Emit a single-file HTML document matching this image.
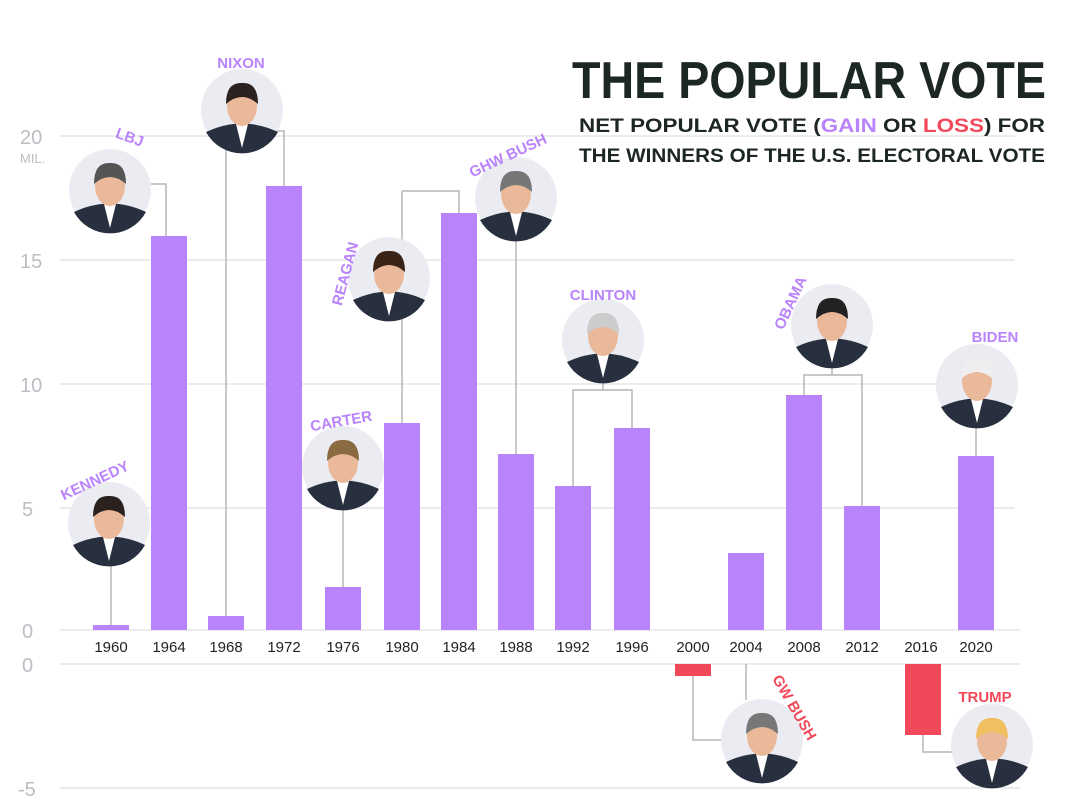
<!DOCTYPE html>
<html><head><meta charset="utf-8"><style>
body{margin:0;background:#fff;}
svg{display:block;font-family:"Liberation Sans",sans-serif;}
</style></head><body>
<svg id="s" width="1080" height="809" viewBox="0 0 1080 809">
<g stroke="#e6e6ea" stroke-width="1.5">
<line x1="60" y1="136" x2="1015" y2="136"/><line x1="60" y1="260" x2="1015" y2="260"/>
<line x1="60" y1="384" x2="1015" y2="384"/><line x1="60" y1="508" x2="1015" y2="508"/>
<line x1="60" y1="630" x2="1020" y2="630"/><line x1="60" y1="664" x2="1020" y2="664"/>
<line x1="60" y1="788" x2="1020" y2="788"/>
</g>
<g fill="#bdbdc4" font-size="20">
<text x="20" y="144">20</text><text x="20" y="163" font-size="13">MIL.</text>
<text x="20" y="268">15</text><text x="20" y="392">10</text><text x="22" y="516">5</text>
<text x="22" y="638">0</text><text x="22" y="672">0</text><text x="18" y="796">-5</text>
</g>
<g stroke="#b5b5b5" stroke-width="1.5" fill="none">
<path d="M111 564V625"/><path d="M151 184H166V236"/>
<path d="M226 131V616M262 131H284V186"/>
<path d="M343 508V587"/><path d="M402 191V423M402 191H459V213"/>
<path d="M516 239V454"/><path d="M573 486V390H632V428M603 380V390"/>
<path d="M804 395V375H862V506M832 366V375"/><path d="M976 426V456"/>
<path d="M693 676V740H722"/><path d="M746 664V700"/>
<path d="M923 735V752H952"/>
</g>
<g fill="#b983fb">
<rect x="93" y="625" width="36" height="5"/><rect x="151" y="236" width="36" height="394"/>
<rect x="208" y="616" width="36" height="14"/><rect x="266" y="186" width="36" height="444"/>
<rect x="325" y="587" width="36" height="43"/><rect x="384" y="423" width="36" height="207"/>
<rect x="441" y="213" width="36" height="417"/><rect x="498" y="454" width="36" height="176"/>
<rect x="555" y="486" width="36" height="144"/><rect x="614" y="428" width="36" height="202"/>
<rect x="728" y="553" width="36" height="77"/><rect x="786" y="395" width="36" height="235"/>
<rect x="844" y="506" width="36" height="124"/><rect x="958" y="456" width="36" height="174"/>
</g>
<g fill="#f2495a"><rect x="675" y="664" width="36" height="12"/><rect x="905" y="664" width="36" height="71"/></g>
<g font-size="15" fill="#222" text-anchor="middle">
<text x="111" y="652">1960</text><text x="169" y="652">1964</text><text x="226" y="652">1968</text>
<text x="284" y="652">1972</text><text x="343" y="652">1976</text><text x="402" y="652">1980</text>
<text x="459" y="652">1984</text><text x="516" y="652">1988</text><text x="573" y="652">1992</text>
<text x="632" y="652">1996</text><text x="693" y="652">2000</text><text x="746" y="652">2004</text>
<text x="804" y="652">2008</text><text x="862" y="652">2012</text><text x="921" y="652">2016</text>
<text x="976" y="652">2020</text>
</g>
<g id="p"></g>
<g font-weight="bold" font-size="15" fill="#b983fb" text-anchor="middle">
<text transform="translate(97,485) rotate(-25)">KENNEDY</text>
<text transform="translate(128,142) rotate(20)">LBJ</text>
<text x="241" y="68">NIXON</text>
<text transform="translate(342,426) rotate(-10)">CARTER</text>
<text transform="translate(350,275) rotate(-75)">REAGAN</text>
<text transform="translate(510,160) rotate(-25)">GHW BUSH</text>
<text x="603" y="300">CLINTON</text>
<text transform="translate(795,305) rotate(-65)">OBAMA</text>
<text x="995" y="342">BIDEN</text>
<text fill="#f2495a" transform="translate(790,710) rotate(60)">GW BUSH</text>
<text fill="#f2495a" x="985" y="702">TRUMP</text>
</g>
<text x="572" y="98" font-size="52" fill="#1c2622" font-weight="bold" textLength="474" lengthAdjust="spacingAndGlyphs">THE POPULAR VOTE</text>
<g font-size="19" fill="#1c2622" font-weight="bold">
<text x="579" y="132" textLength="466" lengthAdjust="spacingAndGlyphs">NET POPULAR VOTE (<tspan fill="#b983fb">GAIN</tspan> OR <tspan fill="#f2495a">LOSS</tspan>) FOR</text>
<text x="579" y="162" textLength="466" lengthAdjust="spacingAndGlyphs">THE WINNERS OF THE U.S. ELECTORAL VOTE</text>
</g>
</svg>
<script>
var P=[[109,523,'#2b2220'],[110,190,'#555'],[242,110,'#2b2220'],[343,467,'#8a6a40'],[389,278,'#3a2418'],[516,198,'#777'],[603,340,'#ccc'],[762,740,'#777'],[832,325,'#222'],[977,385,'#eee'],[992,745,'#f0c060']];
var h='';P.forEach(function(q){var x=q[0],y=q[1];
h+='<circle cx="'+x+'" cy="'+y+'" r="41" fill="#ebebf2"/>';
h+='<path d="M'+(x-36)+' '+(y+22)+'Q'+x+' '+(y+5)+' '+(x+36)+' '+(y+22)+'A41 41 0 0 1 '+(x-36)+' '+(y+22)+'Z" fill="#28303f"/>';
h+='<path d="M'+(x-6)+' '+(y+14)+'L'+x+' '+(y+38)+'L'+(x+6)+' '+(y+14)+'Z" fill="#fff"/>';
h+='<ellipse cx="'+x+'" cy="'+(y-4)+'" rx="15" ry="20" fill="#eab99a"/>';
h+='<path d="M'+(x-16)+' '+(y-6)+'Q'+(x-16)+' '+(y-28)+' '+x+' '+(y-27)+'Q'+(x+16)+' '+(y-28)+' '+(x+16)+' '+(y-6)+'Q'+x+' '+(y-20)+' '+(x-16)+' '+(y-6)+'Z" fill="'+q[2]+'"/>';});
document.getElementById('p').innerHTML=h;
</script>
</body></html>
